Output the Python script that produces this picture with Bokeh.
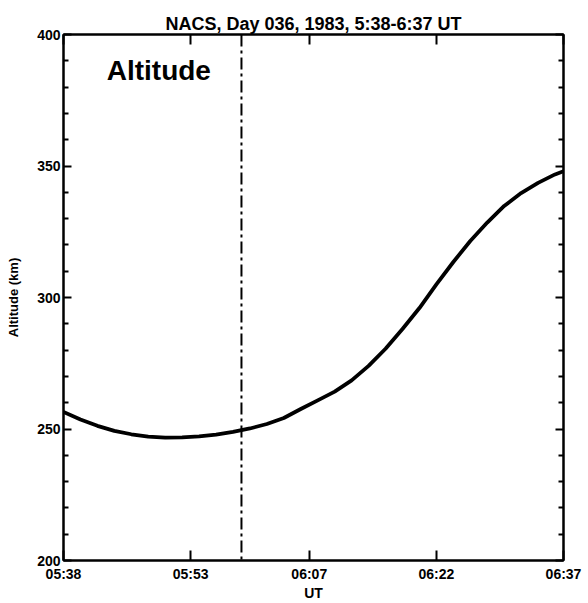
from bokeh.plotting import figure
from bokeh.models import Range1d, FixedTicker, LinearAxis, Span, Label
from bokeh.embed import file_html
from bokeh.resources import INLINE

# minutes since 05:38 UT
t_min = [0, 2, 4, 6, 8, 10, 12, 14, 16, 18, 20, 22, 24, 26, 28, 30, 32, 34, 36, 38,
         40, 42, 44, 46, 48, 50, 52, 54, 56, 58, 59]
altitude_km = [256.5, 253.6, 251.2, 249.3, 248.0, 247.1, 246.7, 246.8, 247.2, 247.9, 248.9,
               250.2, 251.9, 254.2, 257.6, 260.9, 264.2, 268.5, 274.0, 280.5, 288.0, 296.0,
               305.0, 313.5, 321.5, 328.5, 334.8, 339.7, 343.6, 346.8, 348.0]
x_tick_pos = [0, 15, 29, 44, 59]
x_tick_labels = ["05:38", "05:53", "06:07", "06:22", "06:37"]
y_ticks = [200, 250, 300, 350, 400]
y_minor = [210, 220, 230, 240, 260, 270, 280, 290, 310, 320, 330, 340, 360, 370, 380, 390]
marker_time = 21.0

FONT = "Liberation Sans"

p = figure(width=588, height=603, output_backend="svg", toolbar_location=None,
           x_range=Range1d(0, 59), y_range=Range1d(200, 400),
           min_border_left=63, min_border_right=25, min_border_top=34, min_border_bottom=41)
p.background_fill_color = "white"
p.border_fill_color = "white"
p.grid.visible = False
p.outline_line_color = "black"
p.outline_line_width = 2

p.title.text = "NACS, Day 036, 1983, 5:38-6:37 UT"
p.title.align = "center"
p.title.text_font = FONT
p.title.text_font_style = "bold"
p.title.text_font_size = "18px"
p.title.text_color = "black"
p.title.standoff = 2

xt = FixedTicker(ticks=x_tick_pos)
yt = FixedTicker(ticks=y_ticks, minor_ticks=y_minor)

def style(ax, labels=True):
    ax.axis_line_color = "black"
    ax.axis_line_width = 2
    ax.major_tick_line_color = "black"
    ax.major_tick_line_width = 2
    ax.minor_tick_line_color = "black"
    ax.minor_tick_line_width = 2
    ax.major_tick_out = 0
    ax.minor_tick_out = 0
    if labels:
        ax.major_label_text_font = FONT
        ax.major_label_text_font_style = "bold"
        ax.major_label_text_font_size = "14px"
        ax.major_label_text_color = "black"
        ax.axis_label_text_font = FONT
        ax.axis_label_text_font_style = "bold"
        ax.axis_label_text_color = "black"
    else:
        ax.major_label_text_color = None
        ax.major_label_text_font_size = "1px"
        ax.major_label_standoff = 0

xa = p.xaxis[0]
xa.ticker = xt
xa.major_label_overrides = {k: v for k, v in zip(x_tick_pos, x_tick_labels)}
style(xa)
xa.major_tick_in = 10
xa.minor_tick_in = 0
xa.major_label_standoff = 5
xa.axis_label = "UT"
xa.axis_label_text_font_size = "14px"
xa.axis_label_standoff = 0

ya = p.yaxis[0]
ya.ticker = yt
style(ya)
ya.major_tick_in = 8
ya.minor_tick_in = 5
ya.major_label_standoff = 3
ya.axis_label = "Altitude (km)"
ya.axis_label_text_font_size = "13px"
ya.axis_label_standoff = 13

ra = LinearAxis(ticker=yt)
style(ra, labels=False)
ra.major_tick_in = 8
ra.minor_tick_in = 5
p.add_layout(ra, "right")

ta = LinearAxis(ticker=xt)
style(ta, labels=False)
ta.major_tick_in = 10
ta.minor_tick_in = 0
p.add_layout(ta, "above")

p.line(t_min, altitude_km, line_color="black", line_width=3.8, line_join="round")

p.add_layout(Span(location=marker_time, dimension="height", line_color="black",
                  line_width=2, line_dash="12 4 3 4"))

p.add_layout(Label(x=5.1, y=386.5, text="Altitude", text_font=FONT, text_font_style="bold",
                   text_font_size="28px", text_color="black", text_baseline="alphabetic"))

open("out.html", "w").write(file_html(p, INLINE))
